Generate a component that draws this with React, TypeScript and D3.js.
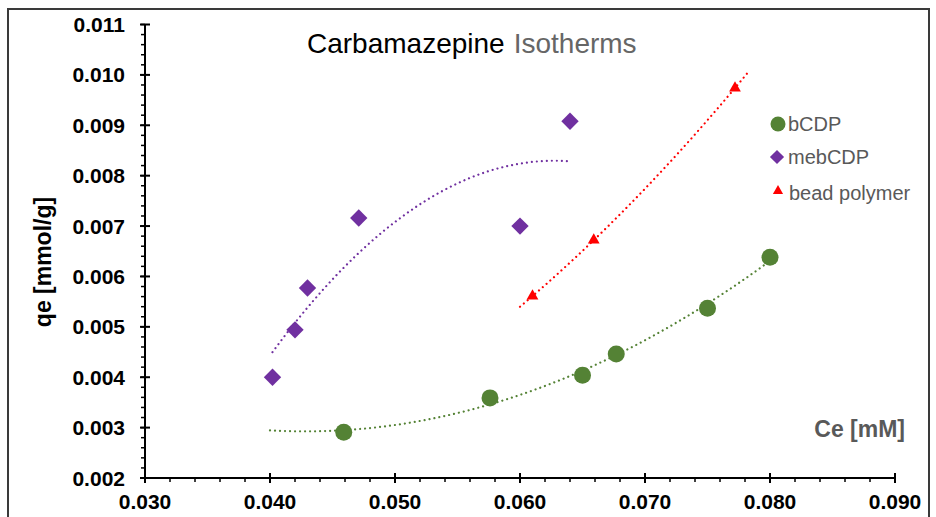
import React from 'react';
import * as d3 from 'd3';

// values
const bcdpCe = [0.0459, 0.0576, 0.0650, 0.0677, 0.0750, 0.0800];
const bcdpQe = [0.00291, 0.00359, 0.00404, 0.00446, 0.00537, 0.00638];
const mebCe = [0.0402, 0.0420, 0.0430, 0.0471, 0.0600, 0.0640];
const mebQe = [0.00400, 0.00494, 0.00577, 0.00716, 0.00700, 0.00908];
const beadCe = [0.0610, 0.0659, 0.0772];
const beadQe = [0.00561, 0.00672, 0.00974];

const xTicks = [0.03, 0.04, 0.05, 0.06, 0.07, 0.08, 0.09];
const yTicks = [0.002, 0.003, 0.004, 0.005, 0.006, 0.007, 0.008, 0.009, 0.010, 0.011];

const width = 936, height = 517;
const margin = { top: 24.5, right: 41, bottom: 39, left: 145 };

// quadratic least squares, like the excel poly trendline
function polyfit2(xs: number[], ys: number[]) {
  const x0 = 0.05, k = 1000;
  const u = xs.map(x => (x - x0) * k);
  let s = [0, 0, 0, 0, 0], t = [0, 0, 0];
  u.forEach((v, i) => {
    for (let p = 0; p < 5; p++) s[p] += Math.pow(v, p);
    for (let p = 0; p < 3; p++) t[p] += Math.pow(v, p) * ys[i];
  });
  const A = [[s[0], s[1], s[2], t[0]], [s[1], s[2], s[3], t[1]], [s[2], s[3], s[4], t[2]]];
  for (let i = 0; i < 3; i++) {
    for (let j = i + 1; j < 3; j++) {
      const f = A[j][i] / A[i][i];
      for (let c = i; c < 4; c++) A[j][c] -= f * A[i][c];
    }
  }
  const co = [0, 0, 0];
  for (let i = 2; i >= 0; i--) {
    let v = A[i][3];
    for (let c = i + 1; c < 3; c++) v -= A[i][c] * co[c];
    co[i] = v / A[i][i];
  }
  return (x: number) => {
    const v = (x - x0) * k;
    return co[0] + co[1] * v + co[2] * v * v;
  };
}

function trend(xs: number[], ys: number[], from: number, to: number) {
  const f = polyfit2(xs, ys);
  return d3.range(0, 101).map(i => {
    const x = from + (to - from) * i / 100;
    return [x, f(x)] as [number, number];
  });
}

const green = '#548235', purple = '#7030A0', red = '#FF0000';

export default function App() {
  const x = d3.scaleLinear().domain([0.03, 0.09]).range([margin.left, width - margin.right]);
  const y = d3.scaleLinear().domain([0.002, 0.011]).range([height - margin.bottom, margin.top]);
  const line = d3.line<[number, number]>().x(d => x(d[0])).y(d => y(d[1])).curve(d3.curveLinear);

  const gTrend = trend(bcdpCe, bcdpQe, 0.040, d3.max(bcdpCe)!);
  const mTrend = trend(mebCe, mebQe, d3.min(mebCe)!, d3.max(mebCe)!);
  const rTrend = trend(beadCe, beadQe, d3.min(beadCe)! - 0.001, d3.max(beadCe)! + 0.001);

  const diamond = d3.symbol(d3.symbolSquare, 150)()!;
  const diamondL = d3.symbol(d3.symbolSquare, 100)()!;
  const tri = d3.symbol(d3.symbolTriangle, 60)()!;
  const triL = d3.symbol(d3.symbolTriangle, 45)()!;

  const x0 = y(0.002), yAx = x(0.03);
  const xMinor = d3.range(0.03, 0.0901, 0.002);
  const yMinor = d3.range(0.002, 0.01101, 0.0002);

  const dotted = { fill: 'none', strokeWidth: 2.2, strokeDasharray: '0.01 5', strokeLinecap: 'round' as const };
  const tickFont = { fontFamily: 'Liberation Sans, Arial, sans-serif', fontWeight: 700, fontSize: 21 };

  return (
    <svg width={width} height={height} style={{ position: 'absolute', left: 0, top: 0, background: '#fff' }}>
      <rect x={8} y={9} width={921} height={520} fill="#fff" stroke="#3a3a3a" strokeWidth={2} />

      <text x={307} y={53} fontFamily="Liberation Sans, Arial, sans-serif" fontSize={28} fill="#000">
        Carbamazepine<tspan fill="#666" dx={9}>Isotherms</tspan>
      </text>

      {/* trendlines */}
      <path d={line(gTrend)!} stroke={green} {...dotted} />
      <path d={line(mTrend)!} stroke={purple} {...dotted} />
      <path d={line(rTrend)!} stroke={red} {...dotted} />

      {/* points */}
      {bcdpCe.map((c, i) => <circle key={'g' + i} cx={x(c)} cy={y(bcdpQe[i])} r={8.5} fill={green} />)}
      {mebCe.map((c, i) => <path key={'m' + i} d={diamond} transform={`translate(${x(c)},${y(mebQe[i])}) rotate(45)`} fill={purple} />)}
      {beadCe.map((c, i) => <path key={'r' + i} d={tri} transform={`translate(${x(c)},${y(beadQe[i])})`} fill={red} />)}

      {/* axes */}
      <g stroke="#000" strokeWidth={2}>
        <line x1={yAx} x2={width - margin.right} y1={x0} y2={x0} />
        <line x1={yAx} x2={yAx} y1={y(0.011)} y2={x0} />
        {xTicks.map(t => <line key={'xt' + t} x1={x(t)} x2={x(t)} y1={x0 - 5} y2={x0 + 5} />)}
        {xMinor.map(t => <line key={'xm' + t} x1={x(t)} x2={x(t)} y1={x0} y2={x0 + 4} strokeWidth={1.5} />)}
        {yTicks.map(t => <line key={'yt' + t} x1={yAx - 5} x2={yAx + 5} y1={y(t)} y2={y(t)} />)}
        {yMinor.map(t => <line key={'ym' + t} x1={yAx - 4} x2={yAx} y1={y(t)} y2={y(t)} strokeWidth={1.5} />)}
      </g>
      {xTicks.map(t => (
        <text key={'xl' + t} x={x(t)} y={509} textAnchor="middle" {...tickFont}>{d3.format('.3f')(t)}</text>
      ))}
      {yTicks.map(t => (
        <text key={'yl' + t} x={125} y={y(t)} dy="0.36em" textAnchor="end" {...tickFont}>{d3.format('.3f')(t)}</text>
      ))}

      <text transform={`translate(51,${262}) rotate(-90)`} textAnchor="middle" fontFamily="Liberation Sans, Arial, sans-serif" fontWeight={700} fontSize={23}>
        qe [mmol/g]
      </text>
      <text x={905} y={437} textAnchor="end" fontFamily="Liberation Sans, Arial, sans-serif" fontWeight={700} fontSize={23} fill="#595959">
        Ce [mM]
      </text>

      {/* legend */}
      <g fontFamily="Liberation Sans, Arial, sans-serif" fontSize={20} fill="#595959">
        <circle cx={778} cy={124} r={7.5} fill={green} />
        <text x={788} y={131}>bCDP</text>
        <path d={diamondL} transform="translate(777,157) rotate(45)" fill={purple} />
        <text x={788} y={164}>mebCDP</text>
        <path d={triL} transform="translate(778,191)" fill={red} />
        <text x={789} y={200}>bead polymer</text>
      </g>
    </svg>
  );
}
